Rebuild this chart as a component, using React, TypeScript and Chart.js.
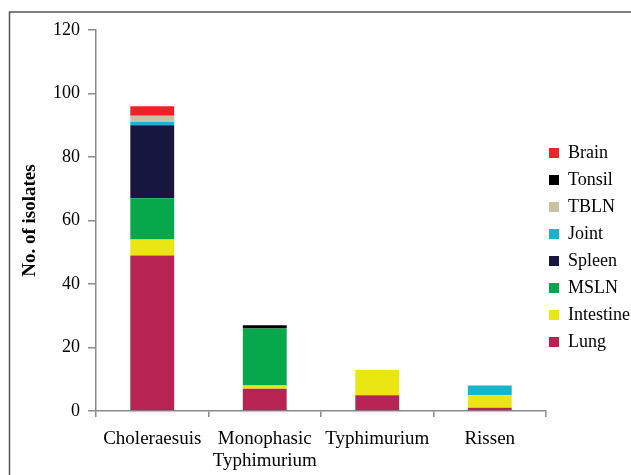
import React, { useEffect, useRef } from "react";
import { Chart, registerables } from "chart.js";

Chart.register(...registerables);

const categories: (string | string[])[] = ["Choleraesuis", ["Monophasic", "Typhimurium"], "Typhimurium", "Rissen"];
const lung = [49, 7, 5, 1];
const intestine = [5, 1, 8, 4];
const msln = [13, 18, 0, 0];
const spleen = [23, 0, 0, 0];
const joint = [1, 0, 0, 3];
const tbln = [2, 0, 0, 0];
const tonsil = [0, 1, 0, 0];
const brain = [3, 0, 0, 0];
const yTicks = [0, 20, 40, 60, 80, 100, 120];

const FONT = "'Liberation Serif', 'Times New Roman', serif";

export default function App() {
  const ref = useRef<HTMLCanvasElement | null>(null);
  useEffect(() => {
    if (!ref.current) return;
    const framePlugin = {
      id: "frame",
      beforeUpdate(chart: any) {
        const lg = chart.legend;
        if (lg && !lg._patched) {
          const orig = lg.fit.bind(lg);
          lg.fit = function () {
            orig();
            this.width = 85;
          };
          lg._patched = true;
        }
      },
      afterLayout(chart: any) {
        const lg = chart.legend;
        if (lg) {
          lg.left = 540;
          lg.top = 135;
        }
      },
      beforeDraw(chart: any) {
        const ctx = chart.ctx;
        ctx.save();
        ctx.strokeStyle = "#555";
        ctx.lineWidth = 1.5;
        ctx.beginPath();
        ctx.moveTo(9.5, 475);
        ctx.lineTo(9.5, 12);
        ctx.lineTo(631, 12);
        ctx.stroke();
        ctx.restore();
      },
    };
    const mk = (label: string, data: number[], color: string) => ({
      label,
      data,
      backgroundColor: color,
      borderColor: color,
      borderWidth: 0,
      barPercentage: 0.39,
      categoryPercentage: 1,
    });
    const chart = new Chart(ref.current, {
      type: "bar",
      data: {
        labels: categories,
        datasets: [
          mk("Lung", lung, "#B72454"),
          mk("Intestine", intestine, "#EAE614"),
          mk("MSLN", msln, "#07A84C"),
          mk("Spleen", spleen, "#16163F"),
          mk("Joint", joint, "#16B5CB"),
          mk("TBLN", tbln, "#C8C1A2"),
          mk("Tonsil", tonsil, "#000000"),
          mk("Brain", brain, "#EE2228"),
        ],
      },
      options: {
        responsive: false,
        animation: false,
        layout: { padding: { top: 30, left: 0, right: 0, bottom: 0 } },
        plugins: {
          tooltip: { enabled: false },
          legend: {
            position: "right",
            align: "start",
            reverse: true,
            labels: {
              boxWidth: 10,
              boxHeight: 10,
              padding: 9,
              color: "#000",
              font: { family: FONT, size: 18 },
            },
          },
        },
        scales: {
          x: {
            stacked: true,
            offset: true,
            grid: {
              offset: true,
              drawOnChartArea: false,
              drawTicks: true,
              tickLength: 6,
              color: "#8a8a8a",
              lineWidth: 1.5,
            },
            border: { color: "#8a8a8a", width: 1.5 },
            ticks: {
              color: "#000",
              padding: 11,
              maxRotation: 0,
              autoSkip: false,
              font: { family: FONT, size: 19, lineHeight: 1.17 },
            },
            afterFit(scale: any) {
              scale.height = 64;
            },
          },
          y: {
            stacked: true,
            min: 0,
            max: 120,
            afterBuildTicks(scale: any) {
              scale.ticks = yTicks.map((v) => ({ value: v }));
            },
            grid: {
              drawOnChartArea: false,
              drawTicks: true,
              tickLength: 8,
              color: "#8a8a8a",
              lineWidth: 1.5,
            },
            border: { color: "#8a8a8a", width: 1.5 },
            ticks: {
              color: "#000",
              padding: 8,
              font: { family: FONT, size: 18 },
            },
            title: {
              display: true,
              text: "No. of isolates",
              color: "#000",
              padding: { top: 19, bottom: 0 },
              font: { family: FONT, size: 19, weight: "bold" },
            },
            afterFit(scale: any) {
              scale.width = 96;
            },
          },
        },
      },
      plugins: [framePlugin],
    } as any);
    return () => chart.destroy();
  }, []);
  return (
    <div style={{ position: "fixed", left: 0, top: 0, width: 631, height: 475, background: "#fff" }}>
      <canvas ref={ref} width={631} height={475} style={{ display: "block" }} />
    </div>
  );
}
